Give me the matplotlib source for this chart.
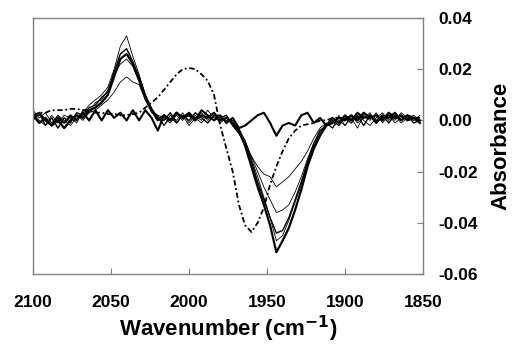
import numpy as np
import matplotlib
matplotlib.use("Agg")
import matplotlib.pyplot as plt

plt.rcParams['font.family'] = ['Liberation Sans', 'DejaVu Sans']
plt.rcParams['axes.unicode_minus'] = False
plt.rcParams['mathtext.default'] = 'bf'

# wavenumber grid (cm-1), 4 cm-1 steps from 2100 down to 1852
wavenumber = np.arange(2100, 1850, -4)

L1 = [0.002, -0.001, 0.001, -0.002, 0.000, -0.003, 0.000, 0.002, 0.001, 0.004,
      0.005, 0.007, 0.010, 0.017, 0.024, 0.026, 0.022, 0.016, 0.009, 0.004,
      0.000, 0.002, 0.000, 0.003, 0.001, 0.002, 0.000, 0.002, 0.001, 0.003,
      0.000, 0.001, -0.001, -0.004, -0.010, -0.018, -0.026, -0.033, -0.041, -0.0515,
      -0.047, -0.042, -0.035, -0.027, -0.018, -0.011, -0.006, -0.002, -0.001, 0.001,
      0.000, 0.002, 0.000, 0.003, 0.001, 0.002, 0.000, 0.003, 0.001, 0.002,
      0.000, 0.001, -0.001]

L2 = [0.004, 0.001, 0.003, -0.001, 0.002, 0.000, -0.002, 0.001, 0.003, 0.006,
      0.008, 0.010, 0.013, 0.020, 0.029, 0.033, 0.025, 0.018, 0.010, 0.005,
      0.001, -0.002, 0.002, 0.000, 0.003, -0.001, 0.002, 0.000, 0.004, 0.001,
      0.002, -0.001, 0.001, -0.003, -0.008, -0.015, -0.022, -0.030, -0.038, -0.047,
      -0.045, -0.039, -0.032, -0.025, -0.017, -0.010, -0.005, -0.001, -0.003, 0.002,
      -0.002, 0.001, -0.003, 0.002, 0.000, 0.003, -0.001, 0.002, 0.000, 0.003,
      0.001, 0.000, 0.001]

L3 = [0.000, 0.003, -0.002, 0.001, -0.003, 0.001, -0.001, 0.003, 0.002, 0.005,
      0.006, 0.009, 0.011, 0.019, 0.026, 0.028, 0.023, 0.017, 0.010, 0.004,
      0.001, 0.000, 0.003, -0.001, 0.002, 0.000, 0.003, 0.001, -0.001, 0.002,
      0.001, 0.002, -0.002, -0.005, -0.009, -0.016, -0.024, -0.031, -0.038, -0.044,
      -0.043, -0.038, -0.031, -0.024, -0.016, -0.009, -0.004, -0.002, 0.000, -0.002,
      0.001, -0.001, 0.002, -0.002, 0.002, 0.000, 0.002, -0.001, 0.002, 0.000,
      0.002, -0.001, 0.000]

L4 = [0.003, 0.000, -0.002, 0.002, -0.001, 0.002, 0.001, -0.001, 0.004, 0.003,
      0.007, 0.008, 0.012, 0.018, 0.022, 0.024, 0.021, 0.015, 0.008, 0.003,
      0.002, 0.001, -0.001, 0.002, 0.000, 0.003, 0.001, -0.001, 0.002, 0.000,
      0.001, 0.000, 0.000, -0.004, -0.008, -0.014, -0.020, -0.026, -0.031, -0.036,
      -0.035, -0.033, -0.028, -0.022, -0.015, -0.009, -0.004, -0.002, 0.001, -0.001,
      0.002, 0.000, 0.003, 0.000, -0.002, 0.001, 0.003, 0.000, 0.002, -0.001,
      0.001, 0.002, 0.000]

L5 = [0.001, 0.002, 0.000, -0.002, 0.002, -0.001, 0.001, 0.002, 0.000, 0.003,
      0.004, 0.006, 0.008, 0.011, 0.015, 0.017, 0.015, 0.014, 0.008, 0.004,
      0.002, -0.002, 0.001, -0.001, 0.002, -0.002, 0.001, 0.003, 0.000, 0.002,
      -0.001, 0.001, -0.002, -0.005, -0.010, -0.014, -0.018, -0.021, -0.022, -0.026,
      -0.024, -0.022, -0.019, -0.016, -0.012, -0.007, -0.003, -0.001, -0.003, 0.000,
      -0.002, 0.002, -0.001, 0.001, 0.003, -0.001, 0.001, 0.002, -0.001, 0.001,
      0.002, 0.000, 0.002]

FLAT = [0.001, 0.003, 0.000, -0.002, 0.001, -0.001, 0.002, 0.000, 0.003, 0.000,
        0.004, 0.000, 0.004, 0.001, 0.003, 0.000, 0.004, 0.000, 0.004, 0.001,
        -0.004, 0.002, 0.000, 0.003, 0.001, 0.003, 0.000, 0.004, 0.002, 0.000,
        0.002, -0.001, 0.001, -0.003, -0.002, 0.000, 0.002, 0.003, -0.001, -0.006,
        -0.002, -0.001, -0.002, 0.002, 0.003, -0.001, 0.001, -0.002, 0.001, -0.001,
        0.002, 0.000, 0.003, 0.001, 0.002, -0.001, 0.002, 0.001, 0.003, 0.000,
        0.002, 0.001, 0.000]

DOTTED = [0.002, 0.003, 0.003, 0.004, 0.004, 0.004, 0.0045, 0.0045, 0.004, 0.004,
          0.003, 0.003, 0.0025, 0.0025, 0.002, 0.002, 0.0025, 0.003, 0.005, 0.007,
          0.009, 0.012, 0.015, 0.018, 0.020, 0.0205, 0.020, 0.018, 0.0155, 0.010,
          -0.002, -0.011, -0.020, -0.033, -0.041, -0.0436, -0.040, -0.034, -0.025, -0.018,
          -0.012, -0.007, -0.004, -0.002, -0.0015, -0.001, 0.000, 0.000, 0.001, 0.001,
          0.001, 0.001, 0.001, 0.001, 0.001, 0.001, 0.001, 0.001, 0.001, 0.001,
          0.001, 0.001, 0.001]

x_ticks = [2100, 2050, 2000, 1950, 1900, 1850]
x_ticklabels = ['2100', '2050', '2000', '1950', '1900', '1850']
y_ticks = [-0.06, -0.04, -0.02, 0.00, 0.02, 0.04]
y_ticklabels = ['-0.06', '-0.04', '-0.02', '0.00', '0.02', '0.04']

fig = plt.figure(figsize=(5.13, 3.45), dpi=100)
ax = fig.add_axes([0.0643, 0.2058, 0.7603, 0.742])

ax.plot(wavenumber, DOTTED, color='black', lw=1.3, linestyle=(0, (3, 1.5, 1, 1.5)))
ax.plot(wavenumber, FLAT, color='black', lw=1.5)
ax.plot(wavenumber, L5, color='black', lw=0.6)
ax.plot(wavenumber, L4, color='black', lw=0.6)
ax.plot(wavenumber, L3, color='black', lw=1.0)
ax.plot(wavenumber, L2, color='black', lw=0.6)
ax.plot(wavenumber, L1, color='black', lw=1.6)

ax.set_xlim(2100, 1850)
ax.set_ylim(-0.06, 0.04)
ax.set_xticks(x_ticks)
ax.set_xticklabels(x_ticklabels)
ax.set_yticks(y_ticks)
ax.set_yticklabels(y_ticklabels)

ax.yaxis.tick_right()
ax.yaxis.set_label_position('right')
for s in ax.spines.values():
    s.set_color('#808080')
    s.set_linewidth(1.0)
ax.tick_params(axis='x', direction='in', length=4, color='#808080', pad=15,
               labelsize=12.5)
ax.tick_params(axis='y', direction='in', length=4, color='#808080', pad=11,
               labelsize=12.5, left=False, right=True)
for lab in ax.get_xticklabels() + ax.get_yticklabels():
    lab.set_fontweight('bold')

ax.set_xlabel(r'Wavenumber (cm$^{\mathbf{-1}}$)', fontsize=16, fontweight='bold',
              labelpad=3)
ax.set_ylabel('Absorbance', fontsize=16, fontweight='bold', labelpad=9)

fig.savefig('out.png', dpi=100)
